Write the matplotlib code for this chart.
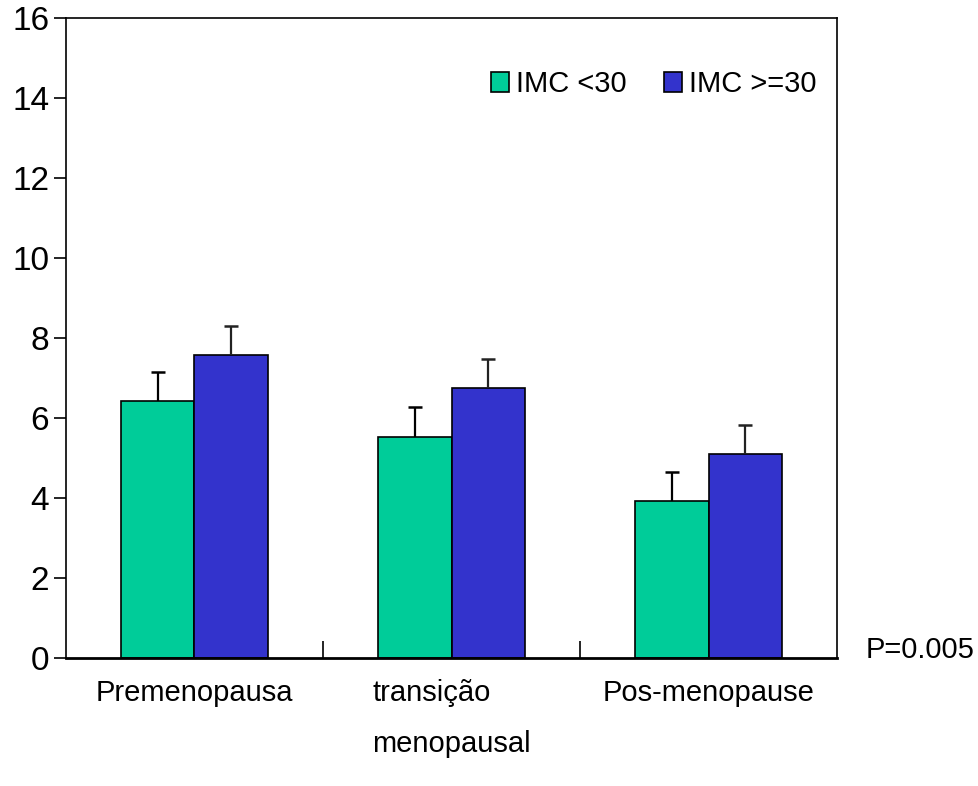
import numpy as np
import matplotlib.pyplot as plt

plt.rcParams['font.family'] = ['Liberation Sans', 'DejaVu Sans']

# data
categories = ['Premenopausa', 'transição\nmenopausal', 'Pos-menopause']
series_names = ['IMC <30', 'IMC >=30']
imc_low = [6.42, 5.53, 3.92]
imc_high = [7.58, 6.74, 5.10]
err_low = [0.72, 0.74, 0.73]
err_high = [0.73, 0.74, 0.73]
colors = ['#00CC99', '#3333CC']

fig = plt.figure(figsize=(9.79, 7.86), dpi=100)
ax = fig.add_axes([0.0674, 0.163, 0.7876, 0.814])

x = np.arange(len(categories))
w = 0.285
ax.bar(x - w/2, imc_low, w, color=colors[0], edgecolor='black', linewidth=1.2, label=series_names[0])
ax.bar(x + w/2, imc_high, w, color=colors[1], edgecolor='black', linewidth=1.2, label=series_names[1])

# upper-only error bars: stem + cap marker
for xs, vals, errs, ec in [(x - w/2, imc_low, err_low, 'black'), (x + w/2, imc_high, err_high, '#222222')]:
    tops = np.array(vals) + np.array(errs)
    ax.vlines(xs, vals, tops, color=ec, linewidth=1.6, zorder=3)
    ax.plot(xs, tops, ls='none', marker='_', markersize=10, markeredgewidth=1.8, color=ec, zorder=3)

ax.set_xlim(-0.5, 2.5)
ax.set_ylim(0, 16)
ax.set_yticks(np.arange(0, 17, 2))
ax.tick_params(axis='y', direction='out', length=9, width=1.2, labelsize=24, pad=3)

# boundary ticks pointing inward, category names as minor labels
ax.set_xticks([0.5, 1.5])
ax.set_xticklabels([])
ax.tick_params(axis='x', which='major', direction='in', length=12, width=1.2)
ax.set_xticks(x, labels=categories, minor=True)
ax.tick_params(axis='x', which='minor', length=0, labelsize=21, pad=15)
for lab in ax.get_xticklabels(minor=True):
    lab.set_multialignment('left')
    lab.set_linespacing(2.05)

for s in ax.spines.values():
    s.set_linewidth(1.2)
ax.spines['bottom'].set_linewidth(2)

leg = ax.legend(loc='upper right', bbox_to_anchor=(1.0, 0.95), frameon=False, ncol=2,
                fontsize=21, handlelength=0.6, handleheight=0.7, handletextpad=0.25,
                columnspacing=1.3, borderaxespad=0.3)
for t in leg.get_texts():
    t.set_fontstretch('condensed')

fig.text(0.884, 1 - 650/786, 'P=0.005', fontsize=21, va='center', ha='left')

fig.savefig('out.png', dpi=100)
